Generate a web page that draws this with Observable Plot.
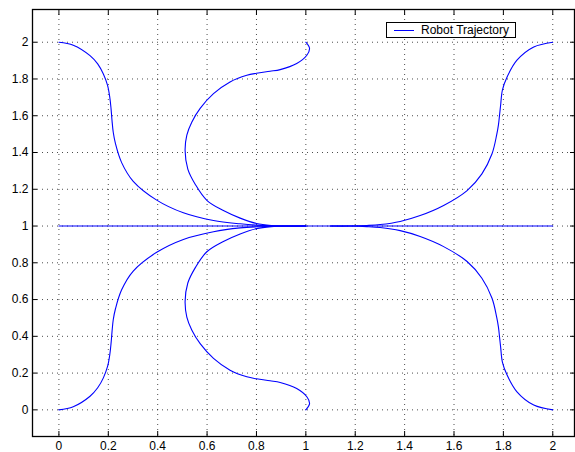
<!DOCTYPE html>
<html>
<head>
<meta charset="utf-8">
<script src="https://cdn.jsdelivr.net/npm/d3@7"></script>
<script src="https://cdn.jsdelivr.net/npm/@observablehq/plot@0.6"></script>
<style>
  body { margin: 0; background: #fff; }
  #wrap { position: relative; width: 575px; height: 452px; }
  #legend { position: absolute; left: 386px; top: 22px; width: 130px; height: 16px; box-sizing: border-box;
            border: 1.3px solid #000; background: #fff; font: 12px "Liberation Sans", Arial, sans-serif; color: #000; }
  #legend .swatch { position: absolute; left: 7px; top: 7px; width: 20px; height: 0; border-top: 1.2px solid #0000ff; }
  #legend .label { position: absolute; left: 34px; top: 0px; line-height: 14px; white-space: nowrap; }
</style>
</head>
<body>
<div id="wrap"><div id="chart"></div>
  <div id="legend"><span class="swatch"></span><span class="label">Robot Trajectory</span></div>
</div>
<script>
// Tick values
const xTicks = [0, 0.2, 0.4, 0.6, 0.8, 1, 1.2, 1.4, 1.6, 1.8, 2];
const yTicks = [0, 0.2, 0.4, 0.6, 0.8, 1, 1.2, 1.4, 1.6, 1.8, 2];

// Trajectories (x, y)
const straight = [[0, 1], [2, 1]];
const topLeft = [[0, 2], [0.058, 1.984], [0.126, 1.927], [0.157, 1.882], [0.18, 1.827], [0.197, 1.765], [0.206, 1.7],
  [0.211, 1.64], [0.215, 1.575], [0.22, 1.51], [0.229, 1.448], [0.254, 1.345], [0.301, 1.243], [0.396, 1.141],
  [0.504, 1.072], [0.626, 1.03], [0.734, 1.012], [0.8, 1.005], [0.88, 1.001], [1.0, 1.0]];
const bottomLeft = [[0, 0], [0.058, 0.017], [0.126, 0.074], [0.157, 0.12], [0.18, 0.174], [0.197, 0.236], [0.206, 0.3],
  [0.211, 0.36], [0.215, 0.424], [0.22, 0.49], [0.229, 0.55], [0.254, 0.653], [0.301, 0.755], [0.396, 0.857],
  [0.504, 0.927], [0.626, 0.969], [0.734, 0.99], [0.8, 0.996], [0.88, 0.999], [1.0, 1.0]];
const topRight = [[2, 2], [1.923, 1.974], [1.855, 1.902], [1.815, 1.811], [1.796, 1.74], [1.789, 1.66], [1.785, 1.611],
  [1.78, 1.55], [1.773, 1.497], [1.754, 1.393], [1.713, 1.284], [1.653, 1.193], [1.558, 1.112], [1.463, 1.057],
  [1.382, 1.025], [1.301, 1.008], [1.247, 1.003], [1.18, 1.0], [1.1, 1.0]];
const bottomRight = [[2, 0], [1.923, 0.026], [1.855, 0.098], [1.815, 0.189], [1.796, 0.26], [1.789, 0.34], [1.785, 0.389],
  [1.78, 0.45], [1.773, 0.503], [1.754, 0.607], [1.713, 0.716], [1.653, 0.807], [1.558, 0.888], [1.463, 0.943],
  [1.382, 0.975], [1.301, 0.992], [1.247, 0.997], [1.18, 1.0], [1.1, 1.0]];
const topLoop = [[1.0, 2.0], [1.015, 1.966], [1.004, 1.929], [0.963, 1.884], [0.896, 1.851], [0.855, 1.842],
  [0.8, 1.831], [0.761, 1.82], [0.693, 1.784], [0.626, 1.72], [0.572, 1.64], [0.538, 1.565], [0.518, 1.495],
  [0.511, 1.411], [0.522, 1.31], [0.553, 1.225], [0.599, 1.14], [0.666, 1.084], [0.734, 1.043], [0.8, 1.014],
  [0.86, 1.003], [0.92, 1.0], [1.0, 1.0]];
const bottomLoop = [[1.0, 0.0], [1.015, 0.034], [1.004, 0.071], [0.963, 0.116], [0.896, 0.149], [0.855, 0.158],
  [0.8, 0.169], [0.761, 0.18], [0.693, 0.216], [0.626, 0.28], [0.572, 0.36], [0.538, 0.435], [0.518, 0.505],
  [0.511, 0.589], [0.522, 0.69], [0.553, 0.775], [0.599, 0.86], [0.666, 0.916], [0.734, 0.957], [0.8, 0.986],
  [0.86, 0.997], [0.92, 1.0], [1.0, 1.0]];

const curves = [["straight", straight], ["topLeft", topLeft], ["bottomLeft", bottomLeft], ["topRight", topRight],
  ["bottomRight", bottomRight], ["topLoop", topLoop], ["bottomLoop", bottomLoop]];
const data = curves.flatMap(([name, pts]) => pts.map(([x, y]) => ({curve: name, x, y})));

const fmt = d => String(+d.toFixed(1));
const grid = {stroke: "#000", strokeOpacity: 0.7, strokeWidth: 1, strokeDasharray: "1,4"};

const chart = Plot.plot({
  width: 575, height: 452,
  marginLeft: 32, marginRight: 1, marginTop: 9, marginBottom: 16,
  x: {domain: [-0.107, 2.088], label: null},
  y: {domain: [-0.145, 2.178], label: null},
  style: {fontFamily: "'Liberation Sans', Arial, sans-serif", fontSize: "12px", color: "#000", background: "#fff"},
  marks: [
    Plot.gridX(xTicks, grid),
    Plot.gridY(yTicks, grid),
    Plot.line(data, {x: "x", y: "y", z: "curve", stroke: "#0000ff", strokeWidth: 1.1, curve: "catmull-rom"}),
    Plot.frame({stroke: "#000", strokeWidth: 1.3}),
    Plot.axisX(xTicks, {anchor: "bottom", tickSize: 0, tickPadding: 5, tickFormat: fmt, label: null}),
    Plot.axisX(xTicks, {anchor: "bottom", tickSize: 5, dy: -5, fill: "none", label: null}),
    Plot.axisX(xTicks, {anchor: "top", tickSize: 5, dy: 5, fill: "none", label: null}),
    Plot.axisY(yTicks, {anchor: "left", tickSize: 0, tickPadding: 4, tickFormat: fmt, label: null}),
    Plot.axisY(yTicks, {anchor: "left", tickSize: 5, dx: 5, fill: "none", label: null}),
    Plot.axisY(yTicks, {anchor: "right", tickSize: 5, dx: -5, fill: "none", label: null})
  ]
});
document.getElementById("chart").appendChild(chart);
</script>
</body>
</html>
